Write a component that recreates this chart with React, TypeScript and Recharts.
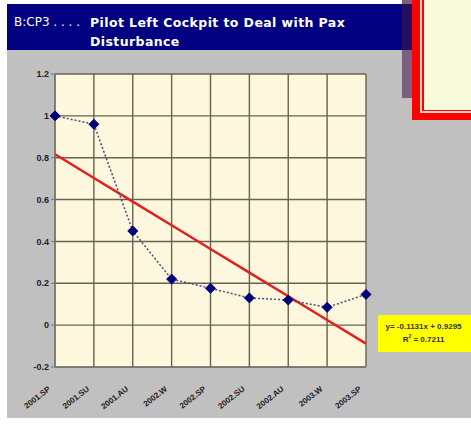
import { CartesianGrid, Line, LineChart, XAxis, YAxis } from "recharts";

const CATEGORIES = ["2001.SP", "2001.SU", "2001.AU", "2002.W", "2002.SP", "2002.SU", "2002.AU", "2003.W", "2003.SP"];
const VALUES = [1.0, 0.96, 0.45, 0.22, 0.176, 0.13, 0.12, 0.085, 0.147];
// linear trend (y = -0.1131x + 0.9295)
const TREND = [0.8164, 0.7033, 0.5902, 0.4771, 0.364, 0.2509, 0.1378, 0.0247, -0.0884];
const Y_TICKS = [-0.2, 0, 0.2, 0.4, 0.6, 0.8, 1, 1.2];

const data = CATEGORIES.map((c, i) => ({ name: c, value: VALUES[i], trend: TREND[i] }));

const FONT = "'Liberation Sans', Arial, sans-serif";
const TITLE_FONT = "'DejaVu Sans', Verdana, sans-serif";

function Diamond(props: any) {
  const { cx, cy } = props;
  if (cx == null || cy == null) return null;
  const r = 5;
  return (
    <polygon
      points={`${cx},${cy - r} ${cx + r},${cy} ${cx},${cy + r} ${cx - r},${cy}`}
      fill="#00007a"
      stroke="#00007a"
    />
  );
}

function XTick(props: any) {
  const { x, y, payload } = props;
  return (
    <g transform={`translate(${x - 4},${y + 15})`}>
      <text
        x={0}
        y={0}
        textAnchor="end"
        transform="rotate(-38)"
        fontFamily={FONT}
        fontWeight="bold"
        fontSize={8}
        fill="#222"
      >
        {payload.value}
      </text>
    </g>
  );
}

export default function App() {
  return (
    <div style={{ position: "relative", width: 471, height: 425, background: "#fff", overflow: "hidden" }}>
      <style>{"body{margin:0}"}</style>
      {/* slide panel */}
      <div style={{ position: "absolute", left: 7, top: 4, width: 464, height: 414, background: "#c0c0c0" }} />
      <div style={{ position: "absolute", left: 7, top: 4, width: 395, height: 46, background: "#000080" }} />
      <div style={{ position: "absolute", left: 402, top: 0, width: 10, height: 98, background: "#7b5f80" }} />
      <div style={{ position: "absolute", left: 402, top: 4, width: 10, height: 46, background: "#22105e" }} />
      <div style={{ position: "absolute", left: 412, top: -20, width: 80, height: 140, background: "#ff0000" }}>
        <div
          style={{
            position: "absolute",
            left: 8,
            top: 0,
            width: 72,
            height: 133,
            boxSizing: "border-box",
            border: "2px solid #f6d8c0",
            background: "#ff0000",
          }}
        >
          <div style={{ position: "absolute", left: 2, top: 0, right: 0, bottom: 1, background: "#fafadc" }} />
        </div>
      </div>
      <div
        style={{
          position: "absolute",
          left: 14,
          top: 13,
          color: "#fff",
          fontFamily: TITLE_FONT,
          fontSize: 12,
          lineHeight: "19px",
        }}
      >
        <span>B:CP3 . . . . </span>
      </div>
      <div
        style={{
          position: "absolute",
          left: 90,
          top: 13,
          color: "#fff",
          fontFamily: TITLE_FONT,
          fontWeight: "bold",
          fontSize: 12.5,
          letterSpacing: 0.4,
          lineHeight: "19px",
          width: 310,
        }}
      >
        Pilot Left Cockpit to Deal with Pax
        <br />
        Disturbance
      </div>

      <div style={{ position: "absolute", left: 0, top: 0 }}>
        <LineChart width={471} height={425} data={data} margin={{ top: 74, right: 105, bottom: 8, left: 10 }}>
          <CartesianGrid stroke="#66644f" strokeWidth={1.4} fill="#fdf7dd" />
          <XAxis
            dataKey="name"
            scale="point"
            padding={{ left: 0, right: 0 }}
            height={50}
            interval={0}
            tick={<XTick />}
            tickLine={false}
            axisLine={{ stroke: "#777" }}
          />
          <YAxis
            domain={[-0.2, 1.2]}
            ticks={Y_TICKS}
            width={45}
            tickSize={4}
            tickLine={{ stroke: "#777" }}
            axisLine={{ stroke: "#777" }}
            tick={{ fontFamily: FONT, fontWeight: "bold", fontSize: 9, fill: "#222" }}
          />
          <Line
            dataKey="trend"
            stroke="#e41e1e"
            strokeWidth={2.5}
            dot={false}
            activeDot={false}
            isAnimationActive={false}
          />
          <Line
            dataKey="value"
            stroke="#4a4a80"
            strokeWidth={1.5}
            strokeDasharray="2 2"
            dot={<Diamond />}
            activeDot={false}
            isAnimationActive={false}
          />
        </LineChart>
      </div>

      <div
        style={{
          position: "absolute",
          left: 378,
          top: 315,
          width: 95,
          height: 37,
          background: "#ffff00",
          fontFamily: FONT,
          fontWeight: "bold",
          fontSize: 8,
          color: "#333",
          textAlign: "center",
          lineHeight: "13px",
          paddingTop: 5,
          boxSizing: "border-box",
          paddingRight: 4,
        }}
      >
        y= -0.1131x + 0.9295
        <br />
        R<sup style={{ fontSize: 5, lineHeight: 0 }}>2</sup> = 0.7211
      </div>
    </div>
  );
}
